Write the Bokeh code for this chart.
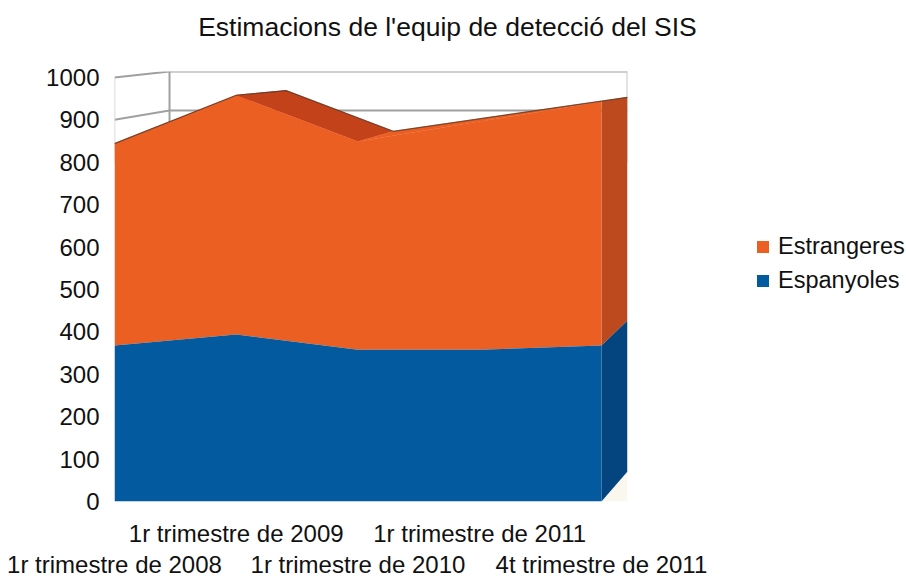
from bokeh.plotting import figure
from bokeh.models import Range1d, LinearAxis, FixedTicker, Legend, LegendItem
from bokeh.core.properties import value
from bokeh.embed import file_html
from bokeh.resources import INLINE

title = "Estimacions de l'equip de detecció del SIS"
categories = ["1r trimestre de 2008", "1r trimestre de 2009", "1r trimestre de 2010",
              "1r trimestre de 2011", "4t trimestre de 2011"]
espanyoles = [368, 394, 358, 358, 368]
estrangeres = [476, 564, 491, 538, 575]
# rear edge of the 3-D ribbon
back_pos = [0.33, 1.41, 2.29, 3.25, 4.214]
back_total = [882, 969, 873, 913, 953]
back_espanyoles_last = 427
back_floor_last = 71
wall_pos = 0.452
wall_front = [1000, 900]
wall_back = [1014, 922]
y_ticks = list(range(0, 1001, 100))

BLUE, BLUE_SIDE = "#035A9F", "#05457F"
ORANGE, ORANGE_SIDE, ORANGE_TOP = "#EB5F23", "#BD4A1E", "#C4421A"
GREY = "#A0A0A0"

xs = list(range(len(categories)))
total = [a + b for a, b in zip(espanyoles, estrangeres)]

p = figure(frame_width=513, frame_height=430, x_axis_type=None, y_axis_type="linear",
           x_range=Range1d(0, 4.214), y_range=Range1d(0, 1014),
           output_backend="svg", toolbar_location=None,
           min_border_left=114, min_border_right=279, min_border_top=71, min_border_bottom=76)
p.outline_line_color = None
p.grid.visible = False
p.background_fill_color = "white"

ya = p.yaxis[0]
ya.ticker = FixedTicker(ticks=y_ticks)
ya.axis_line_color = None
ya.major_tick_line_color = None
ya.minor_tick_line_color = None
ya.major_label_text_font = "Liberation Sans"
ya.major_label_text_font_size = "24px"
ya.major_label_text_color = "#111111"
ya.major_label_standoff = 9

for ticks, standoff in (([1, 3], 12), ([0, 2, 4], -5)):
    ax = LinearAxis(ticker=FixedTicker(ticks=ticks),
                    major_label_overrides={i: categories[i] for i in ticks})
    ax.axis_line_color = None
    ax.major_tick_line_color = None
    ax.minor_tick_line_color = None
    ax.major_label_text_font = "Liberation Sans"
    ax.major_label_text_font_size = "24px"
    ax.major_label_text_color = "#111111"
    ax.major_label_standoff = standoff
    p.add_layout(ax, "below")

# walls
p.line([wall_pos, 4.214], [wall_back[0]] * 2, line_color=GREY, line_width=2)
p.line([wall_pos, 4.214], [wall_back[1]] * 2, line_color=GREY, line_width=2)
p.line([wall_pos, wall_pos], [700, wall_back[0]], line_color=GREY, line_width=2)
p.line([4.214, 4.214], [800, wall_back[0]], line_color="#C8C8C8", line_width=2)
for f, b in zip(wall_front, wall_back):
    p.line([0, wall_pos], [f, b], line_color=GREY, line_width=2)
p.line([0, 0], [800, wall_front[0]], line_color="#D0D0D0", line_width=1.5)

# pale floor corner
p.patch([xs[-1], back_pos[-1], back_pos[-1]], [0, back_floor_last, 0],
        fill_color="#FAF8EE", line_color=None)

# top faces of the ribbon
for i in xs[:-1]:
    color = ORANGE_TOP if total[i + 1] < total[i] else ORANGE
    p.patch([xs[i], xs[i + 1], back_pos[i + 1], back_pos[i]],
            [total[i], total[i + 1], back_total[i + 1], back_total[i]],
            fill_color=color, line_color=color, line_width=0.5)

# right side faces
p.patch([xs[-1], back_pos[-1], back_pos[-1], xs[-1]],
        [total[-1], back_total[-1], back_espanyoles_last, espanyoles[-1]],
        fill_color=ORANGE_SIDE, line_color=None)
p.patch([xs[-1], back_pos[-1], back_pos[-1], xs[-1]],
        [espanyoles[-1], back_espanyoles_last, back_floor_last, 0],
        fill_color=BLUE_SIDE, line_color=None)

# front faces
r_est = p.varea(xs, espanyoles, total, fill_color=ORANGE)
r_esp = p.varea(xs, [0] * len(xs), espanyoles, fill_color=BLUE)

# dark rim along the silhouette
p.line([xs[0], xs[1], back_pos[1], back_pos[2], back_pos[4]],
       [total[0], total[1], back_total[1], back_total[2], back_total[4]],
       line_color="#5A3A2A", line_width=1.2, line_alpha=0.8)

p.text(x=[2.735], y=[1118], text=[title], level="overlay",
       text_align="center", text_baseline="middle",
       text_font=value("Liberation Sans"), text_font_size="26.5px", text_color="#111111")

leg = Legend(items=[LegendItem(label="Estrangeres", renderers=[r_est]),
                    LegendItem(label="Espanyoles", renderers=[r_esp])],
             location=(128, 207), orientation="vertical", padding=0, margin=0, spacing=7,
             glyph_width=15, glyph_height=15, label_standoff=8,
             label_text_font="Liberation Sans", label_text_font_size="23.5px",
             label_text_color="#111111", background_fill_alpha=0, border_line_color=None)
p.add_layout(leg, "right")

open("out.html", "w").write(file_html(p, INLINE))
